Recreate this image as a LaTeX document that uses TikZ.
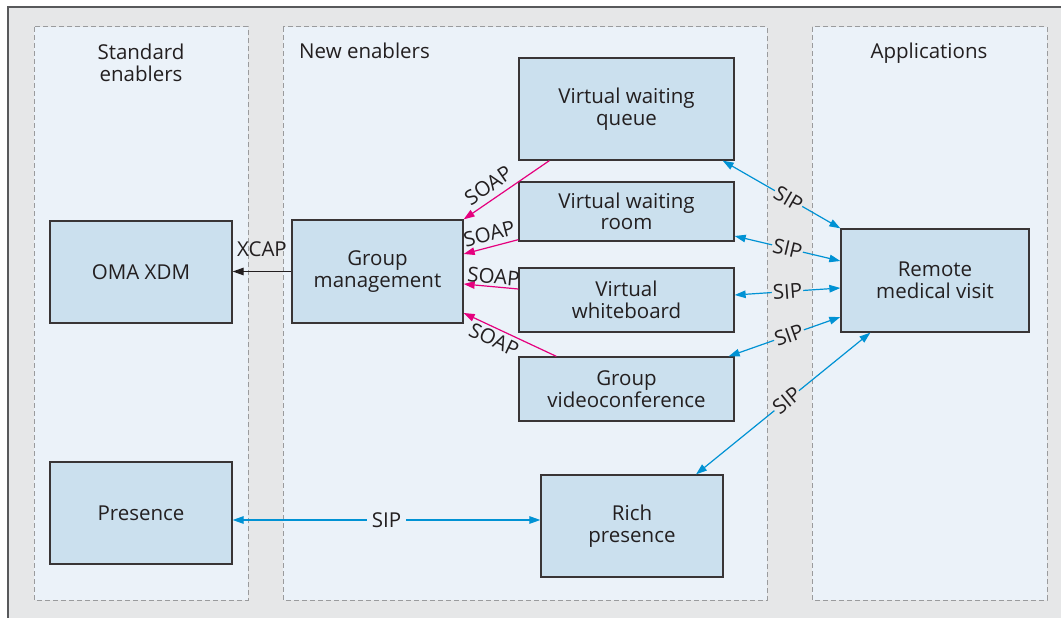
\documentclass[tikz,border=0pt]{standalone}
\usepackage{fontspec}
\setmainfont{Open Sans}
\usetikzlibrary{arrows.meta,calc}
\definecolor{gapgray}{HTML}{E6E7E8}
\definecolor{panelfill}{HTML}{EBF2F9}
\definecolor{boxfill}{HTML}{CBE0EE}
\definecolor{framecol}{HTML}{58595B}
\definecolor{dashcol}{HTML}{9A9B9D}
\definecolor{txt}{HTML}{231F20}
\definecolor{soapcol}{HTML}{E5007E}
\definecolor{sipcol}{HTML}{0092D4}
\begin{document}
\begin{tikzpicture}[x=1pt,y=-1pt,
  every node/.style={text=txt, font=\fontsize{20.5}{21.5}\selectfont},
  panel/.style={draw=dashcol, fill=panelfill, line width=1pt, dash pattern=on 5pt off 3pt},
  box/.style={draw=txt!90, fill=boxfill, line width=1.3pt, align=center, inner sep=0pt},
  title/.style={align=center, inner sep=0pt},
  lab/.style={inner sep=1pt},
  xcap/.style={draw=txt, line width=1.2pt, -{Triangle[length=11pt,width=7.5pt]}},
  soap/.style={draw=soapcol, line width=1.2pt, -{Triangle[length=11pt,width=7.5pt]}},
  sip/.style={draw=sipcol, line width=1.2pt, {Triangle[length=11pt,width=7.5pt]}-{Triangle[length=11pt,width=7.5pt]}},
  siplab/.style={lab, sloped, fill=gapgray, pos=0.52}
]
\useasboundingbox (0,0) rectangle (1061,618);
\fill[white] (0,0) rectangle (1061,618);
\begin{scope}
\clip (0,0) rectangle (1061,618);
\draw[draw=framecol, fill=gapgray, line width=1.3pt] (8,7) rectangle (1075,635);
\end{scope}

% panels
\draw[panel] (34,27) rectangle (248,600);
\draw[panel] (283,27) rectangle (767,600);
\draw[panel] (812,27) rectangle (1047,600);

% titles
\node[title] (t1) at (141,63) {Standard\\enablers};
\node[title, anchor=base west] (t2) at (299,59) {New enablers};
\node[title, anchor=base] (t3) at (929,59) {Applications};

% boxes
\node[box, minimum width=182pt, minimum height=102pt] (oma) at (141,272) {OMA XDM};
\node[box, minimum width=171pt, minimum height=103pt] (gm) at (377.5,271.5) {Group\\management};
\node[box, minimum width=215pt, minimum height=102pt] (vwq) at (626.5,109) {Virtual waiting\\queue};
\node[box, minimum width=215pt, minimum height=59pt] (vwr) at (626.5,211.5) {Virtual waiting\\room};
\node[box, minimum width=215pt, minimum height=64pt] (vwb) at (626.5,300) {Virtual\\whiteboard};
\node[box, minimum width=215pt, minimum height=64pt] (gvc) at (626.5,389) {Group\\videoconference};
\node[box, minimum width=182pt, minimum height=102pt] (pres) at (141,513) {Presence};
\node[box, minimum width=182pt, minimum height=102pt] (rich) at (632,526) {Rich\\presence};
\node[box, minimum width=188pt, minimum height=103pt] (rmv) at (935,280.5) {Remote\\medical visit};

% XCAP
\draw[xcap] (gm.west) -- (gm.west -| oma.east) node[lab, midway, above=13pt] {XCAP};

% SOAP
\draw[soap] ([xshift=31pt]vwq.south west) -- (gm.north east) node[lab, pos=0.62, sloped, above=5pt] {SOAP};
\draw[soap] ([yshift=2pt]vwr.south west) -- ([yshift=17.5pt]gm.east) node[lab, pos=0.47, sloped, above=4pt] {SOAP};
\draw[soap] ([yshift=11pt]vwb.west) -- ([yshift=-12.5pt]gm.east) node[lab, pos=0.47, sloped, above=1pt] {SOAP};
\draw[soap] ([xshift=38pt]gvc.north west) -- ([yshift=-41.5pt]gm.east) node[lab, pos=0.62, sloped, below=2pt] {SOAP};

% SIP
\draw[sip] ([xshift=-12pt]vwq.south east) -- (rmv.north west) node[siplab, pos=0.56] {SIP};
\draw[sip] ([yshift=-24.5pt]vwr.east) -- ([yshift=19.5pt]rmv.west) node[siplab, pos=0.5] {SIP};
\draw[sip] ([yshift=5pt]vwb.east) -- ([yshift=-7.5pt]rmv.west) node[siplab, pos=0.5] {SIP};
\draw[sip] ([xshift=-6pt]gvc.north east) -- ([yshift=-36.5pt]rmv.west) node[siplab, pos=0.54] {SIP};
\draw[sip] ([xshift=64pt]rich.north) -- ([xshift=30pt]rmv.south west) node[siplab, pos=0.52] {SIP};
\draw[sip] ([yshift=-7pt]pres.east) -- ([yshift=6pt]rich.west) node[lab, pos=0.5, fill=panelfill, inner xsep=5pt] {SIP};
\end{tikzpicture}
\end{document}
